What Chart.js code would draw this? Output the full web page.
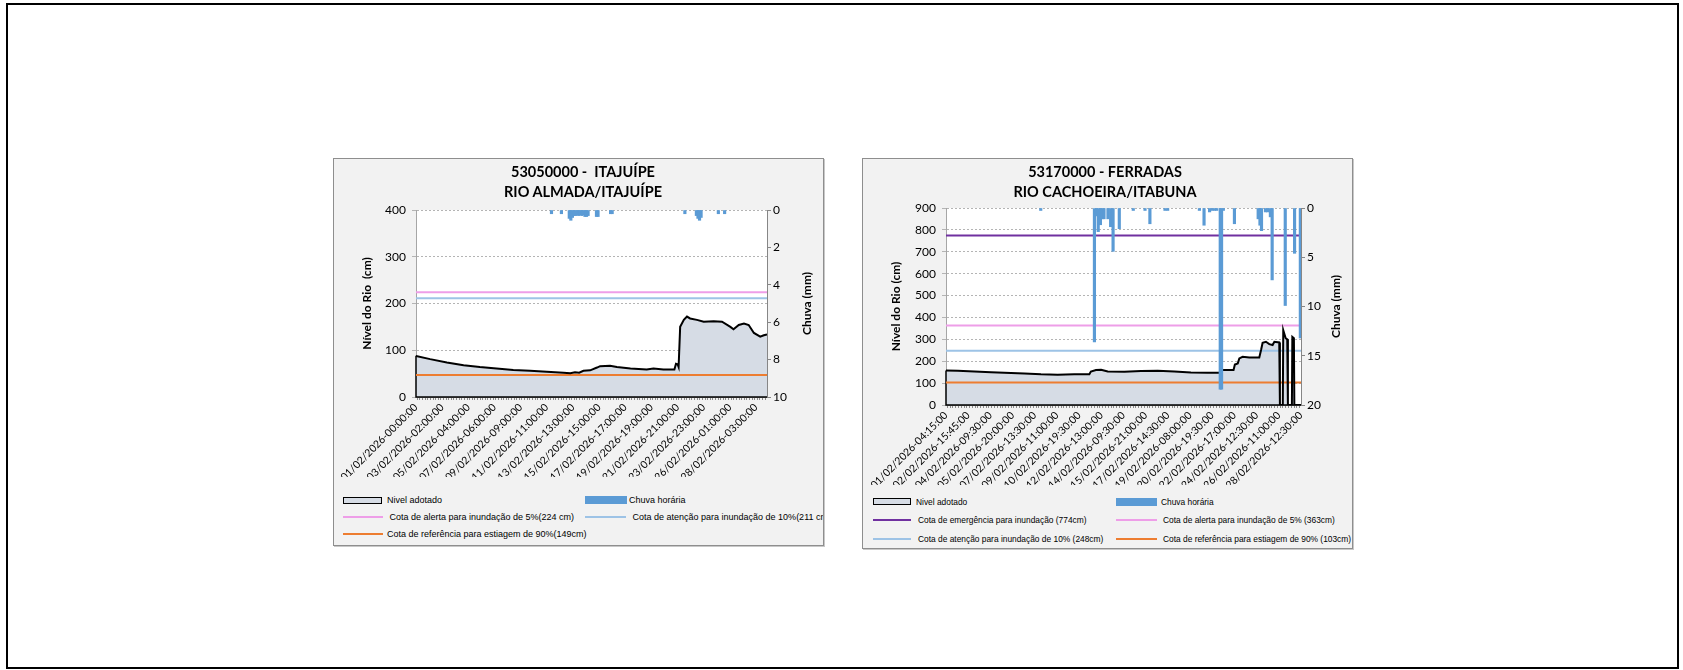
<!DOCTYPE html>
<html lang="pt-BR">
<head>
<meta charset="utf-8">
<title>Monitoramento de níveis</title>
<script src="https://cdn.jsdelivr.net/npm/chart.js@4.4.1/dist/chart.umd.min.js"></script>
<style>
  html, body { margin: 0; padding: 0; background: #fff; }
  body { width: 1683px; height: 670px; position: relative; overflow: hidden; font-family: Lato, sans-serif; }
  #borda { position: absolute; left: 6px; top: 3px; width: 1673px; height: 666px; border: 2px solid #000; box-sizing: border-box; }
  .quadro { position: absolute; top: 158px; width: 491px; background: #f2f2f2; border: 1px solid #8e8e8e;
            box-shadow: 1px 1px 0 #c8c8c8; box-sizing: border-box; overflow: hidden; }
  #quadroL { left: 333px; height: 388px; }
  #quadroR { left: 862px; height: 391px; }
  .quadro canvas { position: absolute; left: 0; top: 0; }
  .titulo { position: absolute; transform: translate(-50%, -50%); font: bold 14.5px Lato; white-space: pre; color: #000; }
  .txt { position: absolute; transform: translateY(-50%); font: 9px "Liberation Sans"; white-space: pre; color: #000; line-height: 12px; }
  #quadroR .txt { font-size: 8.4px; }
  .amostra { position: absolute; box-sizing: border-box; }
  .area { height: 7px; background: #d6dce5; border: 1.5px solid #000; }
  .barra { height: 8px; background: #5b9bd5; }
  .linha { height: 2px; }
</style>
</head>
<body>
<div id="borda"></div>

<div class="quadro" id="quadroL">
  <canvas id="graficoL" width="489" height="330"></canvas>
  <div class="titulo" style="left:249px; top:12px">53050000 -  ITAJUÍPE</div>
  <div class="titulo" style="left:249px; top:32px">RIO ALMADA/ITAJUÍPE</div>

  <div class="amostra area" style="left:9px; top:338px; width:39px"></div>
  <div class="txt" style="left:53px; top:341px">Nivel adotado</div>
  <div class="amostra barra" style="left:251px; top:337px; width:42px"></div>
  <div class="txt" style="left:295px; top:341px">Chuva horária</div>

  <div class="amostra linha" style="left:9px; top:357px; width:40px; background:#ee9ee8"></div>
  <div class="txt" style="left:53px; top:358px"> Cota de alerta para inundação de 5%(224 cm)</div>
  <div class="amostra linha" style="left:251px; top:357px; width:41px; background:#9dc3e6"></div>
  <div class="txt" style="left:296px; top:358px"> Cota de atenção para inundação de 10%(211 cm)</div>

  <div class="amostra linha" style="left:9px; top:374px; width:40px; background:#ed7d31"></div>
  <div class="txt" style="left:53px; top:375px">Cota de referência para estiagem de 90%(149cm)</div>
</div>

<div class="quadro" id="quadroR">
  <canvas id="graficoR" width="489" height="336"></canvas>
  <div class="titulo" style="left:242px; top:12px">53170000 - FERRADAS</div>
  <div class="titulo" style="left:242px; top:32px">RIO CACHOEIRA/ITABUNA</div>

  <div class="amostra area" style="left:10px; top:339px; width:38px"></div>
  <div class="txt" style="left:53px; top:343px">Nivel adotado</div>
  <div class="amostra barra" style="left:253px; top:339px; width:41px"></div>
  <div class="txt" style="left:298px; top:343px">Chuva horária</div>

  <div class="amostra linha" style="left:10px; top:360px; width:38px; background:#7030a0"></div>
  <div class="txt" style="left:55px; top:361px">Cota de emergência para inundação (774cm)</div>
  <div class="amostra linha" style="left:253px; top:360px; width:41px; background:#ee9ee8"></div>
  <div class="txt" style="left:300px; top:361px">Cota de alerta para inundação de 5% (363cm)</div>

  <div class="amostra linha" style="left:10px; top:379px; width:38px; background:#9dc3e6"></div>
  <div class="txt" style="left:55px; top:380px">Cota de atenção para inundação de 10% (248cm)</div>
  <div class="amostra linha" style="left:253px; top:379px; width:41px; background:#ed7d31"></div>
  <div class="txt" style="left:300px; top:380px">Cota de referência para estiagem de 90% (103cm)</div>
</div>

<script>
// ---------- Itajuípe (série horária, x = horas desde 01/02 00:00) ----------
const rotulosL = [
  '01/02/2026-00:00:00', '03/02/2026-02:00:00', '05/02/2026-04:00:00', '07/02/2026-06:00:00',
  '09/02/2026-09:00:00', '11/02/2026-11:00:00', '13/02/2026-13:00:00', '15/02/2026-15:00:00',
  '17/02/2026-17:00:00', '19/02/2026-19:00:00', '21/02/2026-21:00:00', '23/02/2026-23:00:00',
  '26/02/2026-01:00:00', '28/02/2026-03:00:00'
];
const HORA_FINAL_L = 671;

const horasNivelL = [0, 27, 59, 91, 122, 154, 186, 218, 250, 282, 295, 304, 312, 320, 333, 346, 352, 371,
  384, 410, 441, 454, 473, 494, 497, 500, 502, 505, 512, 518, 524, 537, 550, 569, 585, 601, 607, 617,
  627, 636, 646, 658, 665, 671];
const nivelL = [88, 81, 74, 68, 64, 61, 58, 56, 54, 52, 51, 53, 52, 56, 57, 63, 66, 67,
  64, 61, 59, 61, 59, 59, 71, 70, 64, 150, 165, 172, 168, 165, 161, 162, 161, 150, 145, 154,
  157, 154, 137, 129, 132, 134];

const horasChuvaL = [259, 278, 293, 296, 299, 302, 305, 308, 311, 314, 317, 320, 323, 326, 329,
  345, 348, 372, 375, 514, 536, 539, 542, 545, 578, 590];
const chuvaL = [0.2, 0.2, 0.45, 0.55, 0.4, 0.3, 0.3, 0.25, 0.3, 0.25, 0.3, 0.25, 0.35, 0.35, 0.3,
  0.35, 0.35, 0.2, 0.2, 0.2, 0.3, 0.45, 0.55, 0.4, 0.2, 0.2];

const cotaAlertaL = 224;
const cotaAtencaoL = 211;
const cotaEstiagemL = 47;

// ---------- Ferradas (x = posição em intervalos de rótulo) ----------
const rotulosR = [
  '01/02/2026-04:15:00', '02/02/2026-15:45:00', '04/02/2026-09:30:00', '05/02/2026-20:00:00',
  '07/02/2026-13:30:00', '09/02/2026-11:00:00', '10/02/2026-19:30:00', '12/02/2026-13:00:00',
  '14/02/2026-09:30:00', '15/02/2026-21:00:00', '17/02/2026-14:30:00', '19/02/2026-08:00:00',
  '20/02/2026-19:30:00', '22/02/2026-17:00:00', '24/02/2026-12:30:00', '26/02/2026-11:00:00',
  '28/02/2026-12:30:00'
];

const posNivelR = [0, 0.53, 2.03, 3.53, 4.28, 5.03, 5.78, 6.46, 6.53, 6.76, 6.99, 7.29, 8.04, 8.79, 9.54,
  10.29, 11.04, 11.79, 12.32, 12.4, 12.96, 13.02, 13.15, 13.22, 13.37, 13.67, 14.12, 14.2, 14.27, 14.42,
  14.57, 14.72, 14.8, 15.02, 15.05, 15.18, 15.2, 15.31, 15.38, 15.41, 15.59, 15.61, 15.68, 15.7, 16];
const nivelR = [158, 157, 150, 144, 140, 138, 140, 141, 153, 160, 161, 153, 152, 155, 157,
  153, 149, 147, 147, 160, 160, 185, 190, 213, 220, 217, 217, 251, 284, 289,
  278, 274, 289, 286, 0, 0, 342, 305, 300, 0, 0, 311, 305, 0, 0];

const posChuvaR = [4.27, 6.69, 6.78, 6.86, 6.96, 7.03, 7.12, 7.3, 7.42, 7.53, 7.81, 8.44, 8.97, 9.19,
  9.87, 9.99, 11.42, 11.63, 11.88, 11.99, 12.1, 12.2, 12.36, 12.42, 12.5, 13.0, 14.07, 14.15, 14.22,
  14.4, 14.5, 14.62, 14.7, 15.29, 15.71, 15.97];
const chuvaR = [0.25, 13.6, 0.8, 2.4, 1.7, 1.1, 1.1, 1.1, 1.9, 4.4, 2.1, 0.25, 0.25, 1.6,
  0.25, 0.25, 0.25, 1.75, 0.4, 0.25, 0.25, 0.25, 18.4, 18.4, 0.25, 1.6, 1.1, 1.75, 2.3,
  0.4, 0.4, 0.9, 7.3, 9.9, 4.6, 13.2];

const cotaEmergenciaR = 774;
const cotaAlertaR = 363;
const cotaAtencaoR = 248;
const cotaEstiagemR = 103;

// ---------- plugins ----------
const fundoBranco = {
  id: 'fundoBranco',
  beforeDraw(chart) {
    const { ctx, chartArea: a } = chart;
    ctx.save();
    ctx.fillStyle = '#fff';
    ctx.fillRect(a.left, a.top, a.right - a.left, a.bottom - a.top);
    ctx.restore();
  }
};

// contorno da área (lado esquerdo e base), como no gráfico de área do Excel
const contornoArea = {
  id: 'contornoArea',
  beforeDatasetsDraw(chart) {
    const meta = chart.getDatasetMeta(1);
    const pts = meta.data;
    if (!pts.length) return;
    const y0 = chart.scales.y.getPixelForValue(0);
    const p0 = pts[0], pn = pts[pts.length - 1];
    const ctx = chart.ctx;
    ctx.save();
    ctx.strokeStyle = '#000';
    ctx.lineWidth = 1.5;
    ctx.beginPath();
    ctx.moveTo(p0.x, p0.y);
    ctx.lineTo(p0.x, y0);
    ctx.lineTo(pn.x, y0);
    ctx.stroke();
    ctx.restore();
  }
};

// título do eixo da chuva, lido de baixo para cima
const tituloChuva = {
  id: 'tituloChuva',
  afterDraw(chart) {
    const { ctx, chartArea: a } = chart;
    const s = chart.scales.y1;
    ctx.save();
    ctx.translate(s.right - 16, (a.top + a.bottom) / 2);
    ctx.rotate(-Math.PI / 2);
    ctx.font = 'bold 12px Lato';
    ctx.fillStyle = '#000';
    ctx.textAlign = 'center';
    ctx.textBaseline = 'middle';
    ctx.fillText('Chuva (mm)', 0, 0);
    ctx.restore();
  }
};

function pontos(xs, ys) {
  return xs.map((x, i) => ({ x, y: ys[i] }));
}

function cota(valor, xMax, cor) {
  return {
    type: 'line',
    data: [{ x: 0, y: valor }, { x: xMax, y: valor }],
    borderColor: cor,
    borderWidth: 2,
    pointRadius: 0,
    fill: false,
    yAxisID: 'y',
    order: 2
  };
}

function montaGrafico(id, cfg) {
  const datasets = [
    {
      type: 'bar',
      label: 'Chuva horária',
      data: pontos(cfg.posChuva, cfg.chuva),
      backgroundColor: '#5b9bd5',
      barThickness: 2.5,
      yAxisID: 'y1',
      order: 0
    },
    {
      type: 'line',
      label: 'Nivel adotado',
      data: pontos(cfg.posNivel, cfg.nivel),
      borderColor: '#000',
      borderWidth: 2,
      backgroundColor: '#d6dce5',
      fill: 'origin',
      pointRadius: 0,
      tension: 0,
      yAxisID: 'y',
      order: 1
    },
    ...cfg.cotas.map(c => cota(c[0], cfg.xMax, c[1]))
  ];

  return new Chart(document.getElementById(id), {
    type: 'line',
    data: { datasets },
    options: {
      responsive: false,
      animation: false,
      events: [],
      layout: { padding: cfg.padding },
      plugins: {
        legend: { display: false },
        title: { display: false },
        tooltip: { enabled: false },
        filler: { drawTime: 'beforeDatasetsDraw' }
      },
      scales: {
        x: {
          type: 'linear',
          min: 0,
          max: cfg.xMax,
          offset: false,
          afterBuildTicks: s => {
            s.ticks = [];
            for (let i = 0; i * cfg.passo <= cfg.xMax + 1e-9; i++) s.ticks.push({ value: i * cfg.passo });
          },
          afterFit: s => { s.height = cfg.alturaX; },
          ticks: {
            autoSkip: false,
            minRotation: 45,
            maxRotation: 45,
            padding: 1,
            color: '#000',
            font: { family: 'Lato', size: 10.5 },
            callback: cfg.rotulo
          },
          grid: { drawOnChartArea: false, tickLength: 3, color: '#8c8c8c' },
          border: { color: '#8c8c8c' }
        },
        y: {
          position: 'left',
          min: 0,
          max: cfg.yMax,
          afterFit: s => { s.width = cfg.larguraY; },
          ticks: { stepSize: cfg.yPasso, padding: 6, color: '#000', font: { family: 'Lato', size: 12 } },
          grid: { color: '#b4b4b4', tickLength: 4 },
          border: { color: '#a6a6a6', dash: [2, 2] },
          title: {
            display: true,
            text: cfg.tituloY,
            color: '#000',
            font: { family: 'Lato', size: 12, weight: 'bold' },
            padding: 0
          }
        },
        y1: {
          position: 'right',
          reverse: true,
          min: 0,
          max: cfg.chuvaMax,
          afterFit: s => { s.width = cfg.larguraY1; },
          ticks: { stepSize: cfg.chuvaPasso, padding: 2, color: '#000', font: { family: 'Lato', size: 12 } },
          grid: { drawOnChartArea: false, tickLength: 4, color: '#868686' },
          border: { color: '#868686' }
        }
      }
    },
    plugins: [fundoBranco, contornoArea, tituloChuva]
  });
}

montaGrafico('graficoL', {
  posNivel: horasNivelL, nivel: nivelL,
  posChuva: horasChuvaL, chuva: chuvaL,
  cotas: [[cotaAlertaL, '#ee9ee8'], [cotaAtencaoL, '#9dc3e6'], [cotaEstiagemL, '#ed7d31']],
  xMax: HORA_FINAL_L, passo: 5,
  rotulo: v => (v % 50 === 0 ? (rotulosL[v / 50] || '') : ''),
  yMax: 400, yPasso: 100, chuvaMax: 10, chuvaPasso: 2,
  tituloY: 'Nível do Rio  (cm)',
  padding: { left: 26, right: 0, top: 51, bottom: 12 },
  larguraY: 56, larguraY1: 56, alturaX: 80
});

montaGrafico('graficoR', {
  posNivel: posNivelR, nivel: nivelR,
  posChuva: posChuvaR, chuva: chuvaR,
  cotas: [[cotaEmergenciaR, '#7030a0'], [cotaAlertaR, '#ee9ee8'], [cotaAtencaoR, '#9dc3e6'], [cotaEstiagemR, '#ed7d31']],
  xMax: rotulosR.length - 1, passo: 0.125,
  rotulo: v => (Number.isInteger(v) ? rotulosR[v] : ''),
  yMax: 900, yPasso: 100, chuvaMax: 20, chuvaPasso: 5,
  tituloY: 'Nível do Rio (cm)',
  padding: { left: 26, right: 0, top: 49, bottom: 10 },
  larguraY: 57, larguraY1: 51, alturaX: 80
});
</script>
</body>
</html>
